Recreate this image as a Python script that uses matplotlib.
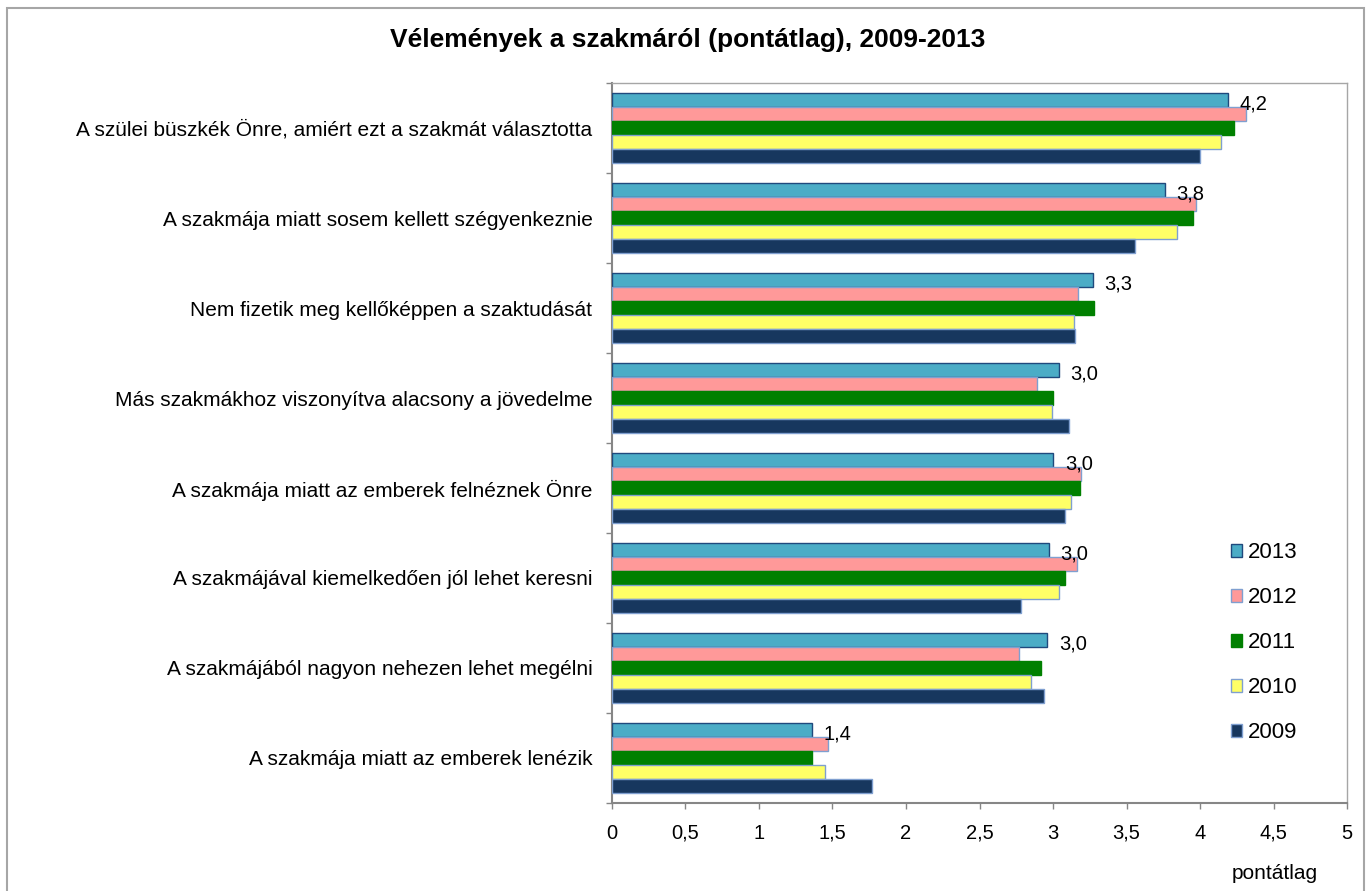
import numpy as np
import matplotlib
matplotlib.use("Agg")
import matplotlib.pyplot as plt
from matplotlib.patches import Rectangle

plt.rcParams['font.family'] = ['Liberation Sans', 'DejaVu Sans']

# ------------------------------------------------------------
# data
# ------------------------------------------------------------
categories = [
    "A szülei büszkék Önre, amiért ezt a szakmát választotta",
    "A szakmája miatt sosem kellett szégyenkeznie",
    "Nem fizetik meg kellőképpen a szaktudását",
    "Más szakmákhoz viszonyítva alacsony a jövedelme",
    "A szakmája miatt az emberek felnéznek Önre",
    "A szakmájával kiemelkedően jól lehet keresni",
    "A szakmájából nagyon nehezen lehet megélni",
    "A szakmája miatt az emberek lenézik",
]
years = ["2013", "2012", "2011", "2010", "2009"]
v2013 = [4.19, 3.76, 3.27, 3.04, 3.00, 2.97, 2.96, 1.36]
v2012 = [4.31, 3.97, 3.17, 2.89, 3.19, 3.16, 2.77, 1.47]
v2011 = [4.23, 3.95, 3.28, 3.00, 3.18, 3.08, 2.92, 1.36]
v2010 = [4.14, 3.84, 3.14, 2.99, 3.12, 3.04, 2.85, 1.45]
v2009 = [4.00, 3.56, 3.15, 3.11, 3.08, 2.78, 2.94, 1.77]
series = [v2013, v2012, v2011, v2010, v2009]

fills = ['#4BACC6', '#FF9999', '#008000', '#FFFF66', '#17375E']
edges = ['#1F497D', '#7F9FD0', '#008000', '#7F9FD0', '#7F9FD0']

# ------------------------------------------------------------
# figure
# ------------------------------------------------------------
fig = plt.figure(figsize=(13.69, 8.91), dpi=100)
ax = fig.add_axes([0.447, 0.0988, 0.537, 0.808])

y = np.arange(len(categories))
h = 0.1556
for j, (vals, fc, ec) in enumerate(zip(series, fills, edges)):
    off = -2.5 * h + h / 2 + j * h
    ax.barh(y + off, vals, height=h, color=fc, edgecolor=ec,
            linewidth=1.0, label=years[j], zorder=3)

# value labels for 2013 (rounded, comma decimal)
for i, v in enumerate(v2013):
    ax.text(v + 0.08, i - 2 * h + 0.04, f"{v:.1f}".replace('.', ','),
            ha='left', va='center', fontsize=14.5)

ax.set_xlim(0, 5)
ax.set_ylim(len(categories) - 0.5, -0.5)
xt = np.arange(0, 5.01, 0.5)
ax.set_xticks(xt)
ax.set_xticklabels([f"{t:g}".replace('.', ',') for t in xt], fontsize=14.5)
ax.set_yticks(y)
ax.set_yticklabels(categories, fontsize=15)
ax.set_yticks(np.arange(-0.5, len(categories), 1), minor=True)
ax.tick_params(axis='y', which='major', length=0, pad=14)
ax.tick_params(axis='y', which='minor', length=4, width=1, color='#868686', direction='out')
ax.tick_params(axis='x', length=4, width=1, color='#868686', pad=11)

for s in ['left', 'bottom']:
    ax.spines[s].set_color('#868686')
    ax.spines[s].set_linewidth(1.5)
for s in ['top', 'right']:
    ax.spines[s].set_color('#A6A6A6')
    ax.spines[s].set_linewidth(1.0)

leg = ax.legend(loc='upper left', bbox_to_anchor=(0.899, 0.3916),
                bbox_transform=fig.transFigure, frameon=False,
                fontsize=16, handlelength=0.5, handleheight=0.5,
                handletextpad=0.27, labelspacing=1.08, borderpad=0,
                borderaxespad=0)

fig.text(0.502, 0.955, "Vélemények a szakmáról (pontátlag), 2009-2013",
         ha='center', va='center', fontsize=19, fontweight='bold')
fig.text(0.931, 0.02, "pontátlag", ha='center', va='center', fontsize=15)

# outer chart border
fig.patches.append(Rectangle((7 / 1369, -0.02), 1357 / 1369, 1.02 - 8 / 891,
                             transform=fig.transFigure, fill=False,
                             edgecolor='#A6A6A6', linewidth=1.5))

fig.savefig("out.png", dpi=100)
